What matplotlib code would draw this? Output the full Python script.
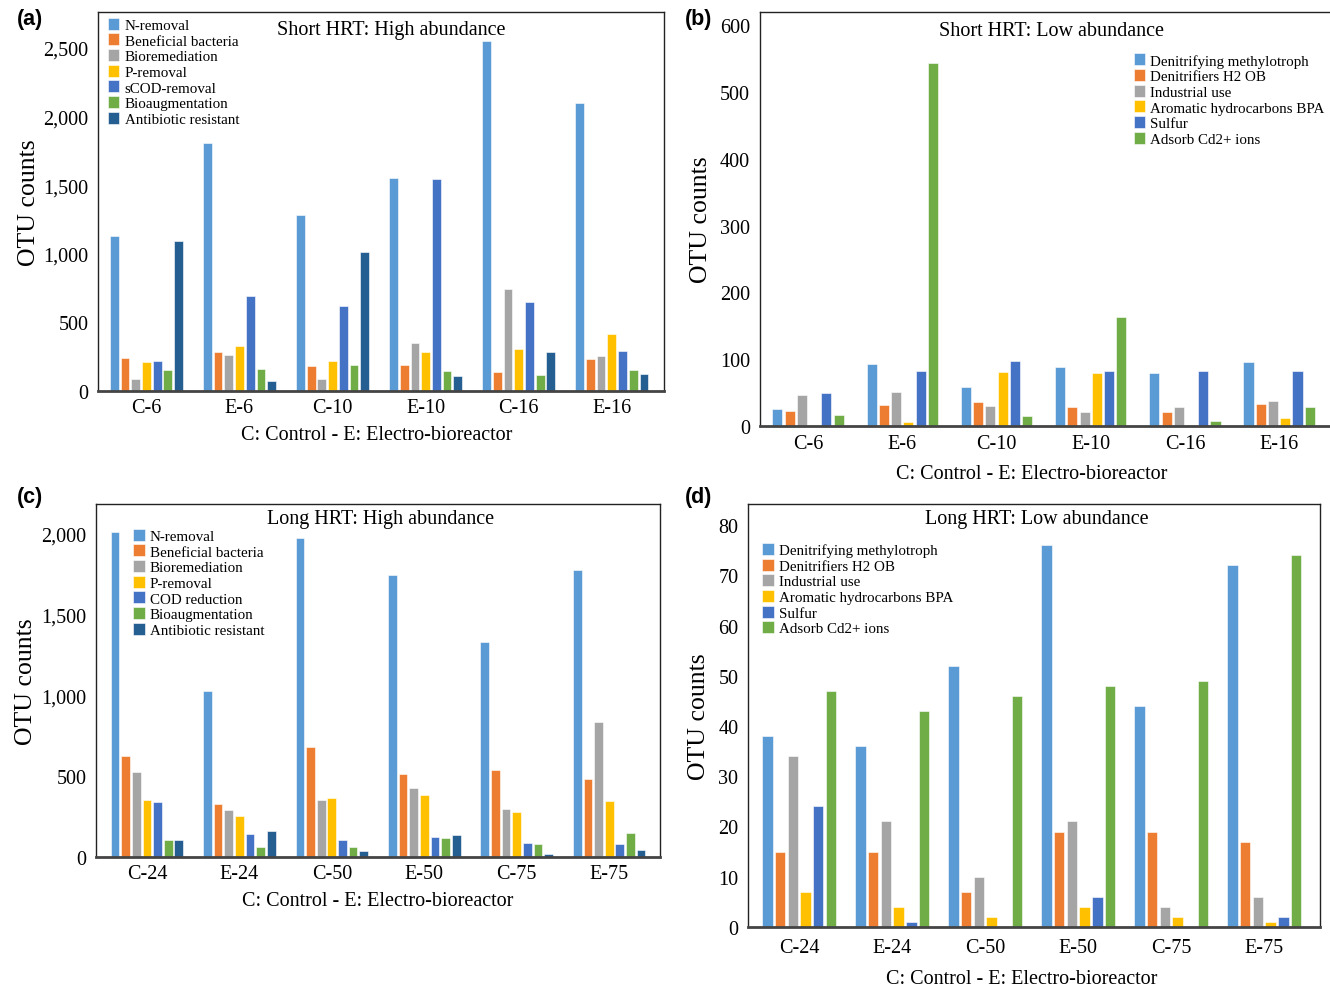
import matplotlib
matplotlib.use('Agg')
import matplotlib.pyplot as plt
import matplotlib.ticker as mticker
import numpy as np

plt.rcParams['font.family'] = ['Liberation Serif', 'DejaVu Serif']

# office-like palette used by the original figure
colors = ['#5B9BD5', '#ED7D31', '#A5A5A5', '#FFC000', '#4472C4', '#70AD47', '#255E91']

xlabel = 'C: Control - E: Electro-bioreactor'

# (a) short HRT, high abundance
short_groups = ['C-6', 'E-6', 'C-10', 'E-10', 'C-16', 'E-16']
a_names = ['N-removal', 'Beneficial bacteria', 'Bioremediation', 'P-removal',
           'sCOD-removal', 'Bioaugmentation', 'Antibiotic resistant']
a_n_removal = [1132, 1804, 1284, 1555, 2548, 2100]
a_beneficial = [240, 281, 181, 193, 139, 230]
a_bioremediation = [88, 266, 86, 352, 746, 257]
a_p_removal = [208, 325, 220, 281, 308, 413]
a_scod = [220, 689, 623, 1543, 648, 289]
a_bioaug = [154, 159, 193, 149, 115, 152]
a_antibiotic = [1090, 73, 1015, 108, 284, 122]

# (b) short HRT, low abundance
low_names = ['Denitrifying methylotroph', 'Denitrifiers H2 OB', 'Industrial use',
             'Aromatic hydrocarbons BPA', 'Sulfur', 'Adsorb Cd2+ ions']
b_denit_methyl = [26, 93, 59, 88, 79, 96.5]
b_denit_h2 = [22, 32, 35.5, 29, 21.5, 32.5]
b_industrial = [46, 51, 30, 21.5, 28, 37.5]
b_aromatic = [2, 5.5, 81, 79, 2, 11.5]
b_sulfur = [49, 83, 97, 82, 83, 82]
b_cd = [16.5, 544, 15, 163, 7.5, 28]

# (c) long HRT, high abundance
long_groups = ['C-24', 'E-24', 'C-50', 'E-50', 'C-75', 'E-75']
c_names = ['N-removal', 'Beneficial bacteria', 'Bioremediation', 'P-removal',
           'COD reduction', 'Bioaugmentation', 'Antibiotic resistant']
c_n_removal = [2010, 1027, 1975, 1743, 1329, 1776]
c_beneficial = [623, 327, 679, 516, 541, 483]
c_bioremediation = [527, 294, 350, 430, 300, 835]
c_p_removal = [356, 253, 364, 383, 280, 344]
c_cod = [342, 144, 103, 126, 88, 78]
c_bioaug = [103, 62, 64, 117, 78, 150]
c_antibiotic = [103, 163, 37, 138, 16, 43]

# (d) long HRT, low abundance
d_denit_methyl = [38, 36, 52, 76, 44, 72]
d_denit_h2 = [15, 15, 7, 19, 19, 17]
d_industrial = [34, 21, 10, 21, 4, 6]
d_aromatic = [7, 4, 2, 4, 2, 1]
d_sulfur = [24, 1, 0, 6, 0, 2]
d_cd = [47, 43, 46, 48, 49, 74]

FS = 14.5


def draw_panel(ax, groups, names, series, slot, title, title_xy, leg_xy,
               ylim, yticks, xlim, hide_right=False, xpad=(5, 6), ylpad=2.5,
               xlabel_x=0.5):
    x = np.arange(len(groups))
    n = len(series)
    for i, (name, vals) in enumerate(zip(names, series)):
        off = (i - (n - 1) / 2) * slot
        ax.bar(x + off, vals, width=slot * 0.82, color=colors[i], label=name,
               edgecolor='white', linewidth=0.4)
    ax.set_xlim(*xlim)
    ax.set_ylim(*ylim)
    ax.set_yticks(yticks)
    ax.yaxis.set_major_formatter(mticker.FuncFormatter(lambda v, p: f'{int(v):,}'))
    ax.set_xticks(x)
    ax.set_xticklabels(groups)
    ax.tick_params(length=0, labelsize=FS)
    ax.tick_params(axis='y', pad=7)
    ax.tick_params(axis='x', pad=xpad[0])
    ax.set_xlabel(xlabel, fontsize=FS, labelpad=xpad[1])
    ax.xaxis.label.set_x(xlabel_x)
    ax.set_ylabel('OTU counts', fontsize=18.5, labelpad=ylpad)
    for s in ['left', 'top', 'right']:
        ax.spines[s].set_linewidth(1.0)
        ax.spines[s].set_color('#222222')
    ax.spines['bottom'].set_linewidth(2.0)
    ax.spines['bottom'].set_color('#444444')
    if hide_right:
        ax.spines['right'].set_visible(False)
    ax.text(title_xy[0], title_xy[1], title, transform=ax.transAxes,
            ha='center', va='center', fontsize=FS)
    ax.legend(loc='upper left', bbox_to_anchor=leg_xy, frameon=False,
              fontsize=10.8, handlelength=0.75, handleheight=0.85,
              handletextpad=0.35, labelspacing=0.1, borderpad=0,
              borderaxespad=0)


fig = plt.figure(figsize=(13.3, 9.87), dpi=100)

ax_a = fig.add_axes([0.0737, 0.6028, 0.4255, 0.3840])
draw_panel(ax_a, short_groups, a_names,
           [a_n_removal, a_beneficial, a_bioremediation, a_p_removal,
            a_scod, a_bioaug, a_antibiotic],
           0.115, 'Short HRT: High abundance', (0.518, 0.955), (0.018, 0.985),
           (0, 2762), [0, 500, 1000, 1500, 2000, 2500], (-0.52, 5.56),
           xlabel_x=0.493)

ax_b = fig.add_axes([0.5714, 0.5674, 0.4286, 0.4194])
draw_panel(ax_b, short_groups, low_names,
           [b_denit_methyl, b_denit_h2, b_industrial, b_aromatic, b_sulfur, b_cd],
           0.13, 'Short HRT: Low abundance', (0.512, 0.955), (0.656, 0.9),
           (0, 620), [0, 100, 200, 300, 400, 500, 600], (-0.51, 5.54),
           hide_right=True, xpad=(6, 8), ylpad=6, xlabel_x=0.477)

ax_c = fig.add_axes([0.0722, 0.1307, 0.4241, 0.3577])
draw_panel(ax_c, long_groups, c_names,
           [c_n_removal, c_beneficial, c_bioremediation, c_p_removal,
            c_cod, c_bioaug, c_antibiotic],
           0.115, 'Long HRT: High abundance', (0.504, 0.96), (0.066, 0.93),
           (0, 2186), [0, 500, 1000, 1500, 2000], (-0.55, 5.55), ylpad=3)

ax_d = fig.add_axes([0.5624, 0.0598, 0.4301, 0.4286])
draw_panel(ax_d, long_groups, low_names,
           [d_denit_methyl, d_denit_h2, d_industrial, d_aromatic, d_sulfur, d_cd],
           0.137, 'Long HRT: Low abundance', (0.505, 0.966), (0.025, 0.908),
           (0, 84.2), [0, 10, 20, 30, 40, 50, 60, 70, 80], (-0.55, 5.6),
           xpad=(8, 8.5), ylpad=6, xlabel_x=0.479)

for lbl, (px, py) in zip(['(a)', '(b)', '(c)', '(d)'],
                         [(17, 20), (685, 20), (17, 498), (685, 498)]):
    fig.text(px / 1330, 1 - py / 987, lbl, fontsize=15.5, fontweight='bold',
             family='Liberation Sans', ha='left', va='center')

fig.savefig('out.png', dpi=100)
